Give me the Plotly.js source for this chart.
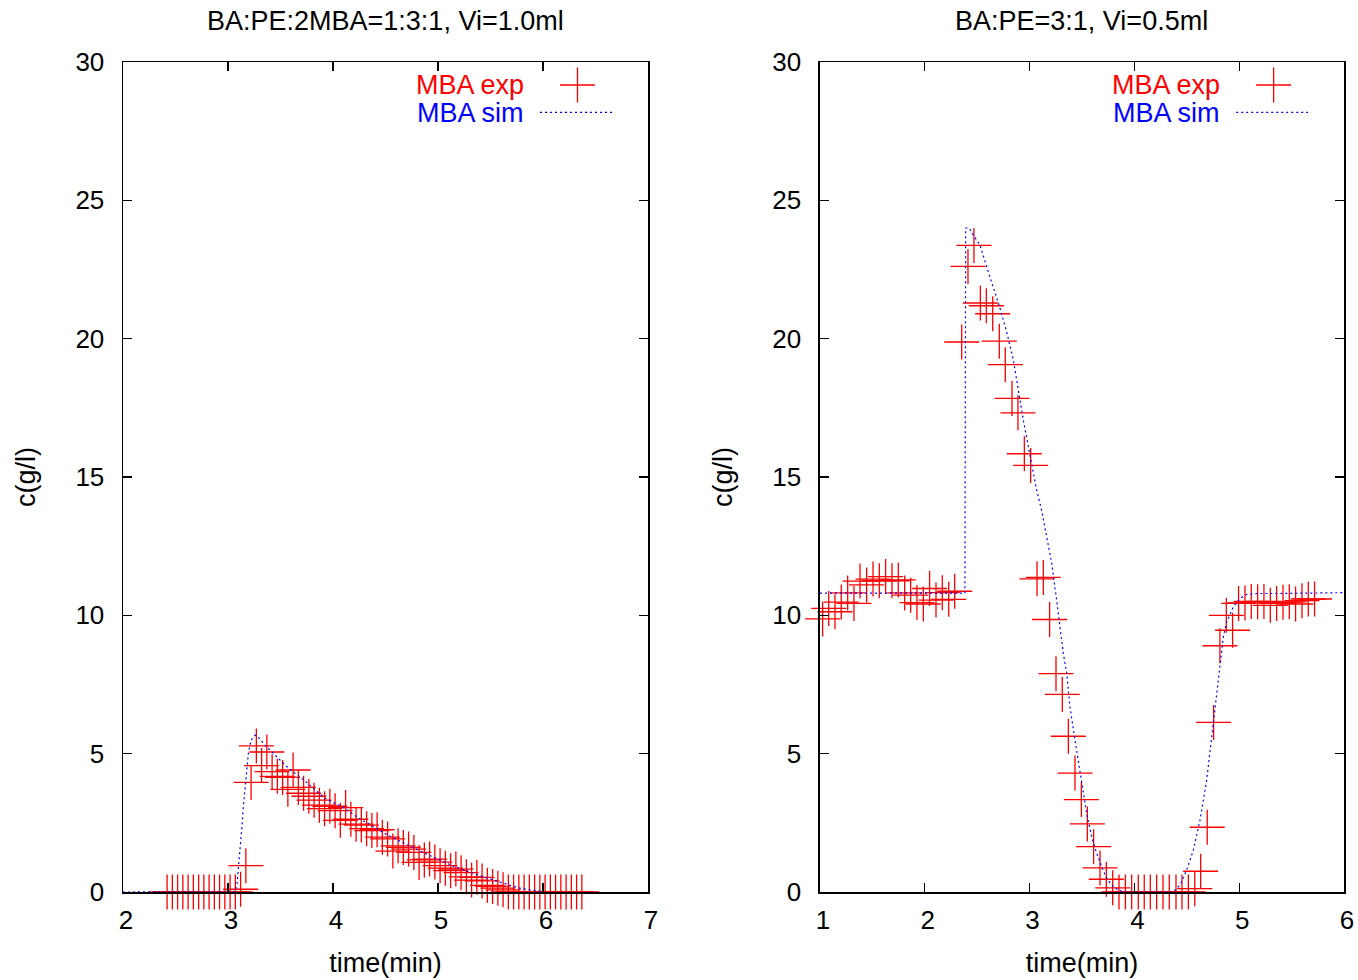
<!DOCTYPE html>
<html>
<head>
<meta charset="utf-8">
<script src="https://cdn.plot.ly/plotly-3.0.1.min.js"></script>
<style>
  html, body { margin: 0; padding: 0; background: #ffffff; }
  #chart { width: 1358px; height: 980px; }
</style>
</head>
<body>
<div id="chart"></div>
<script>
// ---------- Data ----------
const titleLeft = "BA:PE:2MBA=1:3:1, Vi=1.0ml";
const titleRight = "BA:PE=3:1, Vi=0.5ml";
const xTitle = "time(min)";
const yTitle = "c(g/l)";
const expName = "MBA exp";
const simName = "MBA sim";

// Left panel: experimental points
const leftExpT = [2.42, 2.47, 2.52, 2.57, 2.62, 2.67, 2.72, 2.77, 2.82, 2.87, 2.92, 2.97,
  3.02, 3.07, 3.12, 3.17, 3.22, 3.27, 3.32, 3.37, 3.42, 3.47, 3.52, 3.57, 3.62, 3.67, 3.72, 3.77,
  3.82, 3.87, 3.92, 3.97, 4.02, 4.07, 4.12, 4.17, 4.22, 4.27, 4.32, 4.37, 4.42, 4.47, 4.52, 4.57,
  4.62, 4.67, 4.72, 4.77, 4.82, 4.87, 4.92, 4.97, 5.02, 5.07, 5.12, 5.17, 5.22, 5.27, 5.32, 5.37,
  5.42, 5.47, 5.52, 5.57, 5.62, 5.67, 5.72, 5.77, 5.82, 5.87, 5.92, 5.97, 6.02, 6.07, 6.12, 6.17,
  6.22, 6.27, 6.32, 6.37];
const leftExpC = [0, 0, 0, 0, 0, 0, 0, 0, 0, 0, 0, 0,
  0, 0, 0.1, 0.95, 3.96, 5.28, 4.57, 5.06, 4.35, 4.18, 4.14, 3.71, 4.41, 3.78, 3.57, 3.46,
  3.32, 3.14, 3.01, 3.10, 2.94, 2.59, 3.05, 2.63, 2.45, 2.42, 2.29, 2.22, 2.25, 1.98, 1.92, 1.48,
  1.67, 1.61, 1.55, 1.43, 1.07, 1.16, 1.19, 1.08, 0.95, 0.86, 0.77, 0.83, 0.70, 0.55, 0.43, 0.53,
  0.40, 0.24, 0.20, 0.14, 0.08, 0, 0, 0, 0, 0, 0, 0, 0, 0, 0, 0,
  0, 0, 0, 0];

// Left panel: simulation curve
const leftSimT = [2.0, 3.05, 3.067, 3.086, 3.105, 3.130, 3.146, 3.162, 3.178, 3.194, 3.219, 3.257,
  3.289, 3.352, 3.448, 3.543, 3.638, 3.733, 3.829, 3.924, 4.019, 4.114, 4.225, 4.52, 4.84, 5.16,
  5.448, 5.553, 5.670, 5.765, 5.883, 6.003];
const leftSimC = [0, 0, 0.01, 0.31, 1.04, 2.24, 3.08, 3.81, 4.53, 5.01, 5.49, 5.67,
  5.59, 5.31, 4.95, 4.59, 4.29, 4.02, 3.69, 3.39, 3.20, 3.02, 2.72, 2.06, 1.46, 0.91,
  0.53, 0.40, 0.27, 0.15, 0.07, 0.02];

// Right panel: experimental points
const rightExpT = [1.025, 1.083, 1.143, 1.203, 1.264, 1.324, 1.382, 1.445, 1.506, 1.566,
  1.626, 1.687, 1.747, 1.808, 1.865, 1.925, 1.986, 2.046, 2.107, 2.167,
  2.228, 2.285, 2.352, 2.412, 2.469, 2.530, 2.587, 2.648, 2.711, 2.768,
  2.832, 2.889, 2.950, 3.010, 3.071, 3.131, 3.191, 3.252, 3.312, 3.370,
  3.433, 3.494, 3.551, 3.611, 3.672, 3.732, 3.793, 3.853, 3.914, 3.974,
  4.037, 4.094, 4.152, 4.212, 4.273, 4.333, 4.397, 4.454, 4.515, 4.576,
  4.632, 4.695, 4.756, 4.816, 4.877, 4.937, 4.994, 5.055, 5.115, 5.176,
  5.236, 5.297, 5.357, 5.418, 5.478, 5.538, 5.599, 5.659, 5.719];
const rightExpC = [9.87, 10.25, 10.13, 10.48, 10.81, 10.43, 11.24, 11.10, 11.31, 11.25,
  11.40, 11.25, 11.28, 10.81, 10.73, 10.46, 10.41, 10.97, 10.55, 10.82,
  10.58, 10.87, 19.88, 22.61, 23.37, 21.29, 21.19, 20.90, 19.91, 19.06,
  17.84, 17.32, 15.84, 15.42, 11.32, 11.37, 9.85, 7.89, 7.14, 5.63,
  4.30, 3.34, 2.46, 1.64, 0.87, 0.46, 0.15, 0, 0, 0,
  0, 0, 0, 0, 0, 0, 0, 0, 0, 0.12,
  0.75, 2.34, 6.13, 8.90, 10.00, 9.46, 10.43, 10.45, 10.50, 10.49,
  10.50, 10.36, 10.43, 10.47, 10.49, 10.41, 10.53, 10.59, 10.59];

// Right panel: simulation curve
const rightSimT = [1.0, 2.383, 2.390, 2.425, 2.463, 2.527, 2.590, 2.654, 2.718, 2.781,
  2.845, 2.940, 3.004, 3.067, 3.115, 3.163, 3.211, 3.258, 3.290, 3.322,
  3.354, 3.385, 3.433, 3.481, 3.513, 3.545, 3.592, 3.640, 3.688, 3.735,
  3.799, 3.847, 3.90, 4.372, 4.435, 4.499, 4.563, 4.626, 4.690, 4.754,
  4.786, 4.817, 4.849, 4.881, 4.945, 5.008, 5.072, 5.199, 5.390, 6.0];
const rightSimC = [10.80, 10.80, 24.0, 24.0, 23.74, 23.38, 22.60, 21.85, 21.09, 20.25,
  19.23, 17.06, 15.73, 14.53, 13.80, 12.84, 11.88, 10.55, 9.59, 8.62,
  7.90, 6.70, 5.49, 4.29, 3.57, 2.84, 2.00, 1.40, 0.91, 0.49,
  0.19, 0.07, 0, 0, 0.25, 0.80, 1.52, 2.60, 4.05, 6.22,
  7.18, 8.38, 9.23, 9.77, 10.31, 10.61, 10.76, 10.79, 10.79, 10.82];

const leftXRange = [2, 7];
const rightXRange = [1, 6];
const yRange = [0, 30];
const xTickStep = 1;
const yTickStep = 5;

// ---------- Styling ----------
const FONT = "Liberation Sans, Arial, Helvetica, sans-serif";
const RED = "#ff0000";
const BLUE = "#0000ff";
const crossMarker = { symbol: "cross-thin-open", size: 25, color: RED, line: { color: RED, width: 1.3 } };
const simLine = { color: BLUE, width: 1.2, dash: "2px,3px" };

const traces = [
  { x: leftExpT, y: leftExpC, xaxis: "x", yaxis: "y", type: "scatter", mode: "markers",
    name: expName, marker: crossMarker, cliponaxis: false, showlegend: false },
  { x: leftSimT, y: leftSimC, xaxis: "x", yaxis: "y", type: "scatter", mode: "lines",
    name: simName, line: simLine, showlegend: false },
  { x: rightExpT, y: rightExpC, xaxis: "x2", yaxis: "y2", type: "scatter", mode: "markers",
    name: expName, marker: crossMarker, cliponaxis: false, showlegend: false },
  { x: rightSimT, y: rightSimC, xaxis: "x2", yaxis: "y2", type: "scatter", mode: "lines",
    name: simName, line: simLine, showlegend: false }
];

function xAxis(range, domain, anchor) {
  return {
    domain: domain, range: range, anchor: anchor, dtick: xTickStep, tick0: range[0],
    showgrid: false, zeroline: false, showline: true, linecolor: "#000", linewidth: 1.5,
    mirror: "ticks", ticks: "inside", ticklen: 9, tickwidth: 1.3, tickcolor: "#000",
    ticklabelstandoff: 4, ticklabelshift: 3,
    tickfont: { family: FONT, size: 26, color: "#000" },
    title: { text: xTitle, font: { family: FONT, size: 27, color: "#000" }, standoff: 19 }
  };
}
function yAxis(anchor) {
  return {
    domain: [0, 1], range: yRange, anchor: anchor, dtick: yTickStep, tick0: 0,
    showgrid: false, zeroline: false, showline: true, linecolor: "#000", linewidth: 1.5,
    mirror: "ticks", ticks: "inside", ticklen: 9, tickwidth: 1.3, tickcolor: "#000",
    ticklabelstandoff: 12,
    tickfont: { family: FONT, size: 26, color: "#000" },
    title: { text: yTitle, font: { family: FONT, size: 27, color: "#000" }, standoff: 32 }
  };
}

// legend geometry in subplot-domain units (gnuplot style key: text then sample)
function legendItems(xr, yr) {
  const ann = [
    { xref: xr, yref: yr, x: 0.768, y: 0.9723, xanchor: "right", yanchor: "middle",
      text: expName, showarrow: false, font: { family: FONT, size: 27, color: RED } },
    { xref: xr, yref: yr, x: 0.768, y: 0.9386, xanchor: "right", yanchor: "middle",
      text: simName, showarrow: false, font: { family: FONT, size: 27, color: BLUE } }
  ];
  const shp = [
    { type: "line", xref: xr, yref: yr, x0: 0.8324, x1: 0.8990, y0: 0.9723, y1: 0.9723,
      line: { color: RED, width: 1.3 } },
    { type: "line", xref: xr, yref: yr, x0: 0.8657, x1: 0.8657, y0: 0.9512, y1: 0.9934,
      line: { color: RED, width: 1.3 } },
    { type: "line", xref: xr, yref: yr, x0: 0.7943, x1: 0.9314, y0: 0.9392, y1: 0.9392,
      line: { color: BLUE, width: 1.2, dash: "2px,3px" } }
  ];
  return { ann, shp };
}
const legL = legendItems("x domain", "y domain");
const legR = legendItems("x2 domain", "y2 domain");

const titleAnn = [
  { xref: "x domain", yref: "y domain", x: 0.5, y: 1.0494, xanchor: "center", yanchor: "middle",
    text: titleLeft, showarrow: false, font: { family: FONT, size: 27, color: "#000" } },
  { xref: "x2 domain", yref: "y2 domain", x: 0.5, y: 1.0494, xanchor: "center", yanchor: "middle",
    text: titleRight, showarrow: false, font: { family: FONT, size: 27, color: "#000" } }
];

const layout = {
  width: 1358, height: 980,
  margin: { l: 123, r: 14, t: 62, b: 88 },
  paper_bgcolor: "#ffffff", plot_bgcolor: "#ffffff",
  showlegend: false,
  font: { family: FONT, color: "#000" },
  xaxis: xAxis(leftXRange, [0, 0.42998], "y"),
  yaxis: yAxis("x"),
  xaxis2: xAxis(rightXRange, [0.57084, 1], "y2"),
  yaxis2: yAxis("x2"),
  annotations: titleAnn.concat(legL.ann, legR.ann),
  shapes: legL.shp.concat(legR.shp)
};

Plotly.newPlot("chart", traces, layout, { displayModeBar: false, staticPlot: true });
</script>
</body>
</html>
